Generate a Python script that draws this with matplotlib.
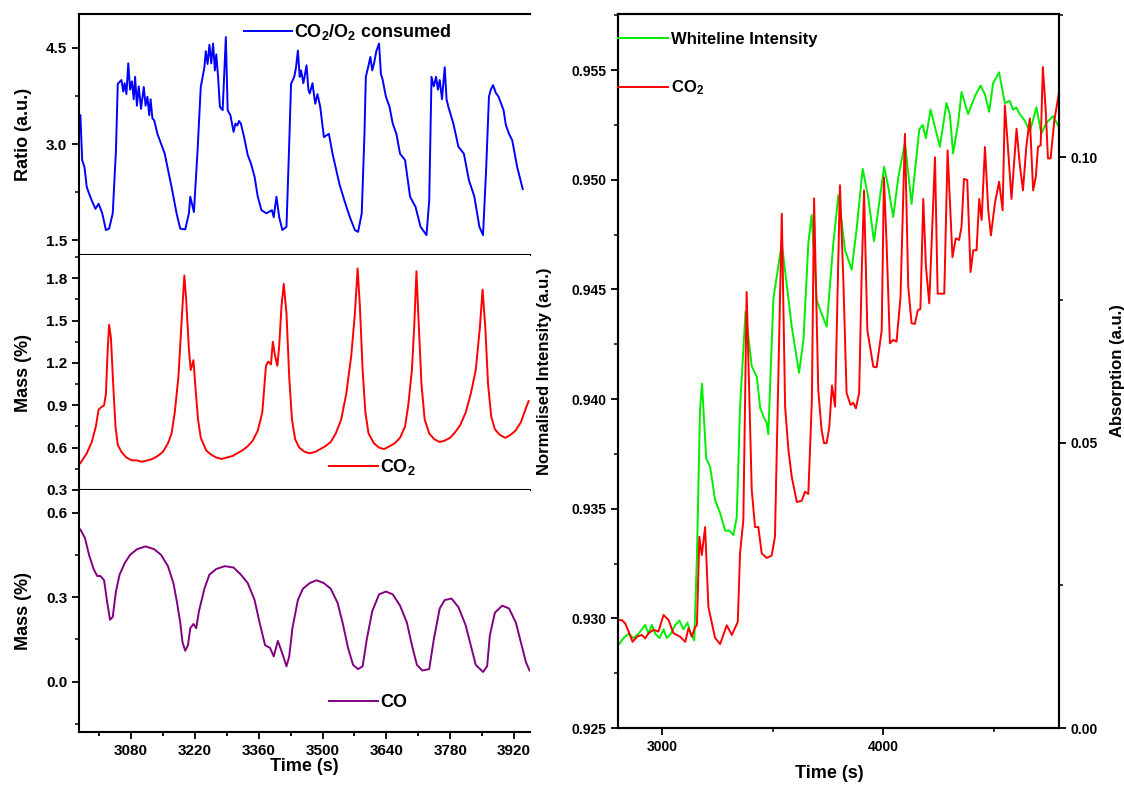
import matplotlib
matplotlib.use("Agg")
import matplotlib.pyplot as plt
from matplotlib.ticker import MultipleLocator, FixedLocator
import numpy as np

plt.rcParams['font.family'] = ['Liberation Sans', 'DejaVu Sans']
plt.rcParams['font.weight'] = 'bold'
plt.rcParams['mathtext.fontset'] = 'custom'
plt.rcParams['mathtext.rm'] = 'Liberation Sans:bold'
plt.rcParams['mathtext.bf'] = 'Liberation Sans:bold'
plt.rcParams['mathtext.default'] = 'rm'

# ---- left column: CO2/O2 ratio, CO2 mass, CO mass vs time (s)
t_ratio = [2969, 2973, 2978, 2983, 2988, 2994, 3002, 3009, 3017, 3025, 3032, 3040, 3047, 3051,
           3059, 3063, 3066, 3070, 3074, 3078, 3082, 3086, 3089, 3093, 3097, 3102, 3108, 3112,
           3116, 3120, 3123, 3127, 3131, 3138, 3154, 3169, 3180,
           3188, 3199, 3207, 3210, 3218, 3226, 3233, 3241, 3244, 3248, 3252, 3256, 3260, 3264,
           3267, 3271, 3275, 3281,
           3288, 3292, 3298, 3305, 3309, 3313, 3317, 3321, 3328, 3336, 3343, 3351, 3358, 3366,
           3377, 3389, 3393, 3399, 3405, 3412, 3421, 3427, 3431, 3438, 3442, 3446, 3450, 3453,
           3458, 3465, 3469, 3472, 3478, 3484, 3489, 3495, 3503, 3514, 3522, 3537, 3548, 3560,
           3571, 3578, 3586, 3592, 3595, 3600, 3605, 3609, 3613, 3618, 3624, 3628, 3632, 3639,
           3647, 3654, 3662, 3670, 3681, 3692, 3704, 3715, 3728, 3734, 3739, 3744, 3749, 3753,
           3757, 3762, 3768, 3772, 3776, 3787, 3798, 3810, 3821, 3833, 3844, 3852, 3859, 3865,
           3869, 3874, 3880, 3886, 3897, 3902, 3909, 3916, 3927, 3939]
ratio = [3.45, 2.75, 2.64, 2.33, 2.23, 2.12, 1.99, 2.07, 1.92, 1.66, 1.68, 1.92, 2.90, 3.94,
         4.00, 3.82, 3.95, 3.78, 4.26, 3.85, 3.98, 3.70, 4.05, 3.60, 3.90, 3.55, 3.89, 3.60,
         3.74, 3.45, 3.70, 3.40, 3.37, 3.16, 2.85, 2.33, 1.92,
         1.68, 1.67, 1.92, 2.18, 1.94, 2.90, 3.89, 4.20, 4.45, 4.25, 4.55, 4.26, 4.57, 4.15,
         4.40, 4.05, 3.58, 3.53,
         4.67, 3.53, 3.45, 3.19, 3.32, 3.29, 3.36, 3.32, 3.11, 2.83, 2.70, 2.49, 2.18, 1.97,
         1.92, 1.97, 1.86, 2.18, 1.86, 1.66, 1.71, 3.01, 3.94, 4.05, 4.20, 4.46, 4.05, 4.15,
         3.95, 4.23, 3.85, 3.79, 3.95, 3.63, 3.78, 3.58, 3.11, 3.16, 2.85, 2.38, 2.12, 1.86,
         1.66, 1.63, 1.92, 3.16, 4.05, 4.20, 4.36, 4.15, 4.26, 4.45, 4.57, 4.10, 4.00, 3.74,
         3.58, 3.32, 3.16, 2.85, 2.75, 2.18, 2.02, 1.71, 1.58, 2.12, 4.05, 3.90, 4.05, 3.85,
         4.00, 3.70, 4.20, 3.70, 3.58, 3.32, 2.96, 2.85, 2.44, 2.18, 1.71, 1.58, 2.64, 3.74,
         3.85, 3.92, 3.80, 3.74, 3.53, 3.30, 3.16, 3.06, 2.64, 2.30]

t_co2 = [2969, 2983, 2994, 3003, 3009, 3016, 3021, 3025, 3029, 3032, 3036, 3041, 3046, 3051,
         3059, 3070, 3082, 3093, 3104, 3116, 3127, 3138, 3150, 3161, 3169, 3176, 3184, 3192,
         3197, 3201, 3207, 3211, 3217, 3222, 3227, 3233, 3245, 3256, 3267, 3279, 3290, 3302,
         3313, 3324, 3336, 3347, 3358, 3368, 3376, 3381, 3387, 3391, 3396, 3401, 3405, 3410,
         3415, 3421, 3427, 3433, 3440, 3449, 3461, 3472, 3484, 3495, 3506, 3518, 3529, 3541,
         3552, 3563, 3571, 3577, 3582, 3588, 3594, 3601, 3613, 3624, 3635, 3647, 3658, 3670,
         3681, 3688, 3696, 3701, 3706, 3710, 3717, 3724, 3734, 3745, 3757, 3768, 3780, 3791,
         3802, 3814, 3825, 3836, 3845, 3851, 3857, 3863, 3870, 3878, 3889, 3901, 3912, 3923,
         3935, 3946, 3952]
co2_mass = [0.49, 0.56, 0.64, 0.75, 0.87, 0.89, 0.90, 0.98, 1.30, 1.47, 1.38, 1.05, 0.75, 0.62,
            0.57, 0.53, 0.51, 0.51, 0.50, 0.51, 0.52, 0.54, 0.57, 0.63, 0.70, 0.85, 1.10, 1.55,
            1.82, 1.65, 1.30, 1.15, 1.22, 1.00, 0.80, 0.67, 0.58, 0.55, 0.53, 0.52, 0.53, 0.54,
            0.56, 0.58, 0.61, 0.65, 0.72, 0.85, 1.18, 1.21, 1.19, 1.35, 1.25, 1.18, 1.32, 1.60,
            1.76, 1.55, 1.10, 0.80, 0.66, 0.60, 0.57, 0.56, 0.57, 0.59, 0.61, 0.64, 0.70, 0.80,
            0.98, 1.25, 1.55, 1.87, 1.60, 1.15, 0.85, 0.70, 0.63, 0.60, 0.59, 0.61, 0.63, 0.67,
            0.75, 0.90, 1.15, 1.45, 1.85, 1.55, 1.05, 0.80, 0.70, 0.66, 0.64, 0.65, 0.67, 0.71,
            0.76, 0.85, 0.98, 1.15, 1.45, 1.72, 1.45, 1.05, 0.82, 0.73, 0.69, 0.67, 0.69, 0.72,
            0.78, 0.88, 0.93]

t_co = [2969, 2979, 2988, 2998, 3006, 3013, 3021, 3028, 3034, 3040, 3047, 3055, 3066, 3078,
        3093, 3112, 3131, 3146, 3161, 3173, 3180, 3188, 3193, 3199, 3205, 3210, 3217, 3223,
        3229, 3241, 3252, 3267, 3286, 3305, 3321, 3336, 3351, 3362, 3374, 3385, 3393, 3402,
        3412, 3421, 3427, 3434, 3446, 3457, 3472, 3487, 3503, 3518, 3533, 3544, 3556, 3567,
        3578, 3588, 3597, 3609, 3624, 3639, 3654, 3670, 3685, 3696, 3707, 3719, 3734, 3744,
        3757, 3768, 3783, 3798, 3814, 3825, 3836, 3852, 3861, 3867, 3878, 3894, 3909, 3924,
        3935, 3946, 3954]
co_mass = [0.54, 0.51, 0.45, 0.40, 0.375, 0.375, 0.36, 0.28, 0.22, 0.23, 0.32, 0.38, 0.42, 0.45,
           0.47, 0.48, 0.47, 0.45, 0.41, 0.35, 0.29, 0.21, 0.14, 0.11, 0.13, 0.19, 0.205, 0.19,
           0.25, 0.33, 0.38, 0.40, 0.41, 0.405, 0.38, 0.35, 0.29, 0.21, 0.13, 0.12, 0.09, 0.145,
           0.10, 0.055, 0.09, 0.19, 0.29, 0.33, 0.35, 0.36, 0.35, 0.33, 0.28, 0.21, 0.12, 0.06,
           0.045, 0.055, 0.15, 0.25, 0.31, 0.32, 0.31, 0.27, 0.21, 0.13, 0.06, 0.04, 0.045, 0.15,
           0.26, 0.29, 0.295, 0.265, 0.20, 0.13, 0.06, 0.035, 0.055, 0.165, 0.245, 0.27, 0.26, 0.21,
           0.14, 0.07, 0.04]

# ---- right panel: whiteline intensity (left axis) and CO2 absorption (right axis)
t_white = [2803, 2825, 2848, 2870, 2893, 2908, 2923, 2938, 2953, 2968, 2988, 3006, 3021, 3039,
           3059, 3078, 3096, 3114, 3130, 3145, 3157, 3171, 3180, 3199, 3217, 3239, 3262, 3285,
           3304, 3322, 3337, 3352, 3377, 3405, 3428, 3443, 3458, 3473, 3480, 3503, 3541, 3586,
           3619, 3639, 3661, 3676, 3699, 3721, 3744, 3774, 3797, 3827, 3857, 3880, 3907, 3932,
           3958, 3985, 4004, 4022, 4045, 4068, 4098, 4128, 4163, 4178, 4193, 4214, 4234, 4256,
           4286, 4301, 4316, 4339, 4354, 4384, 4414, 4440, 4460, 4479, 4497, 4524, 4550, 4572,
           4587, 4602, 4617, 4640, 4663, 4693, 4715, 4738, 4768, 4795]
whiteline = [0.9288, 0.9291, 0.9293, 0.9291, 0.9293, 0.9295, 0.9297, 0.9293, 0.9297, 0.9293,
             0.9291, 0.9295, 0.9291, 0.9293, 0.9297, 0.9299, 0.9295, 0.9298, 0.9293, 0.9290,
             0.9328, 0.9395, 0.9407, 0.9373, 0.9369, 0.9354, 0.9348, 0.9340, 0.9340, 0.9338,
             0.9346, 0.9396, 0.9440, 0.9415, 0.9410, 0.9396, 0.9392, 0.9389, 0.9384, 0.9446,
             0.9471, 0.9433, 0.9412, 0.9427, 0.9471, 0.9484, 0.9445, 0.9439, 0.9433, 0.9471,
             0.9493, 0.9468, 0.9459, 0.9478, 0.9505, 0.9492, 0.9472, 0.9492, 0.9506, 0.9497,
             0.9483, 0.9501, 0.9517, 0.9489, 0.9523, 0.9525, 0.9519, 0.9532, 0.9524, 0.9515,
             0.9535, 0.9530, 0.9512, 0.9526, 0.9540, 0.9530, 0.9538, 0.9543, 0.9539, 0.9531,
             0.9544, 0.9549, 0.9535, 0.9536, 0.9532, 0.9533, 0.9530, 0.9527, 0.9522, 0.9533,
             0.9521, 0.9526, 0.9529, 0.9524]

t_abs = [2803, 2818, 2833, 2848, 2866, 2886, 2908, 2923, 2938, 2961, 2983, 3006, 3029, 3051,
         3081, 3104, 3119, 3134, 3149, 3157, 3168, 3179, 3194, 3209, 3239, 3262, 3292, 3315,
         3342, 3352, 3367, 3382, 3405, 3420, 3435, 3450, 3473, 3495, 3510, 3541, 3556, 3571,
         3586, 3609, 3631, 3646, 3661, 3677, 3687, 3706, 3721, 3732, 3744, 3756, 3768, 3782,
         3804, 3819, 3834, 3852, 3864, 3876, 3891, 3902, 3913, 3928, 3955, 3970, 3993, 4003,
         4015, 4030, 4045, 4060, 4078, 4098, 4113, 4128, 4143, 4156, 4168, 4181, 4193, 4208,
         4234, 4246, 4260, 4276, 4291, 4304, 4313, 4328, 4343, 4354, 4365, 4380, 4395, 4407,
         4422, 4434, 4445, 4460, 4475, 4487, 4505, 4524, 4540, 4550, 4565, 4580, 4603, 4617,
         4632, 4647, 4663, 4678, 4690, 4700, 4712, 4722, 4735, 4745, 4757, 4774, 4794]
absorption = [0.0189, 0.0189, 0.0183, 0.0169, 0.0151, 0.0160, 0.0163, 0.0157, 0.0166, 0.0172,
              0.0169, 0.0198, 0.0189, 0.0166, 0.0160, 0.0151, 0.0175, 0.0160, 0.0177, 0.0180,
              0.0335, 0.0303, 0.0352, 0.0212, 0.0158, 0.0147, 0.0180, 0.0163, 0.0186, 0.0306,
              0.0364, 0.0764, 0.0417, 0.0352, 0.0352, 0.0306, 0.0298, 0.0302, 0.0335, 0.0901,
              0.0563, 0.0487, 0.0440, 0.0396, 0.0398, 0.0414, 0.0410, 0.0574, 0.0928, 0.0592,
              0.0522, 0.0499, 0.0499, 0.0528, 0.0600, 0.0563, 0.0951, 0.0790, 0.0587, 0.0566,
              0.0570, 0.0560, 0.0587, 0.0790, 0.0942, 0.0697, 0.0633, 0.0632, 0.0697, 0.0965,
              0.0849, 0.0674, 0.0680, 0.0677, 0.0755, 0.1041, 0.0773, 0.0709, 0.0708, 0.0732,
              0.0734, 0.0927, 0.0808, 0.0744, 0.1000, 0.0761, 0.0761, 0.0761, 0.1012, 0.0902,
              0.0825, 0.0858, 0.0855, 0.0878, 0.0962, 0.0960, 0.0799, 0.0837, 0.0837, 0.0927,
              0.0890, 0.1018, 0.0907, 0.0863, 0.0919, 0.0957, 0.0907, 0.1091, 0.1012, 0.0927,
              0.1050, 0.0989, 0.0942, 0.1018, 0.1068, 0.0942, 0.0965, 0.1018, 0.1021, 0.1158,
              0.1082, 0.0998, 0.0998, 0.1065, 0.1111]

fig = plt.figure(figsize=(11.24, 7.87), dpi=100)
W, H = 1124, 787


def px_axes(x0, y0, x1, y1):
    return fig.add_axes([x0 / W, 1 - y1 / H, (x1 - x0) / W, (y1 - y0) / H])


ax1 = px_axes(79, 14, 530, 255)
ax2 = px_axes(79, 255, 530, 490)
ax3 = px_axes(79, 490, 530, 732)
axr = px_axes(618, 14, 1059, 728)

spw = 1.5
for ax in (ax1, ax2, ax3):
    ax.set_xlim(2966, 3955)
    ax.spines['right'].set_visible(False)
    for s in ('left', 'bottom', 'top'):
        ax.spines[s].set_linewidth(spw)
    ax.tick_params(axis='y', which='major', direction='out', length=5, width=1.3, labelsize=11)
    ax.tick_params(axis='y', which='minor', direction='out', length=3, width=1.1)
    ax.tick_params(axis='x', which='both', direction='out', width=1.3)
    ax.yaxis.set_label_coords(-0.105, 0.5)
    for lab in ax.get_yticklabels():
        lab.set_fontweight('bold')
ax2.spines['top'].set_visible(False)
ax3.spines['top'].set_visible(False)
for ax in (ax1, ax2):
    ax.tick_params(axis='x', which='both', bottom=False, labelbottom=False)

# top: ratio
ax1.plot(t_ratio, ratio, color='#0000ff', lw=1.4, label='CO$_2$/O$_2$ consumed')
ax1.set_ylim(1.27, 5.03)
ax1.yaxis.set_major_locator(FixedLocator([1.5, 3.0, 4.5]))
ax1.yaxis.set_minor_locator(FixedLocator([2.25, 3.75]))
ax1.set_ylabel('Ratio (a.u.)', fontsize=13, fontweight='bold')
ax1.legend(loc='center left', bbox_to_anchor=(0.365, 0.925), frameon=False, fontsize=13,
           handlelength=2.7, handletextpad=0.1, borderpad=0, borderaxespad=0)

# middle: CO2 mass
ax2.plot(t_co2, co2_mass, color='#ff0000', lw=1.4, label='CO$_2$')
ax2.set_ylim(0.3, 1.965)
ax2.yaxis.set_major_locator(MultipleLocator(0.3))
ax2.yaxis.set_minor_locator(MultipleLocator(0.15))
ax2.set_ylabel('Mass (%)', fontsize=13, fontweight='bold')
ax2.legend(loc='center left', bbox_to_anchor=(0.555, 0.098), frameon=False, fontsize=13,
           handlelength=2.7, handletextpad=0.1, borderpad=0, borderaxespad=0)

# bottom: CO mass
ax3.plot(t_co, co_mass, color='#800080', lw=1.4, label='CO')
ax3.set_ylim(-0.178, 0.68)
ax3.yaxis.set_major_locator(MultipleLocator(0.3))
ax3.yaxis.set_minor_locator(MultipleLocator(0.15))
ax3.set_ylabel('Mass (%)', fontsize=13, fontweight='bold')
ax3.xaxis.set_major_locator(MultipleLocator(140))
ax3.xaxis.set_minor_locator(FixedLocator(np.arange(3010, 3960, 140)))
ax3.tick_params(axis='x', which='major', length=5, labelsize=11)
ax3.tick_params(axis='x', which='minor', length=3)
for lab in ax3.get_xticklabels():
    lab.set_fontweight('bold')
ax3.set_xlabel('Time (s)', fontsize=13, fontweight='bold', labelpad=0)
ax3.legend(loc='center left', bbox_to_anchor=(0.555, 0.12), frameon=False, fontsize=13,
           handlelength=2.7, handletextpad=0.1, borderpad=0, borderaxespad=0)

# right panel
axt = axr.twinx()
for a in (axr, axt):
    for s in a.spines.values():
        s.set_linewidth(spw)
lw_, = axr.plot(t_white, whiteline, color='#00ee00', lw=1.4, label='Whiteline Intensity')
la_, = axt.plot(t_abs, absorption, color='#ff0000', lw=1.4, label='CO$_2$')
axr.set_xlim(2800, 4795)
axr.set_ylim(0.925, 0.95756)
axt.set_ylim(0.0, 0.1251)
axr.xaxis.set_major_locator(MultipleLocator(1000))
axr.xaxis.set_minor_locator(MultipleLocator(500))
axr.yaxis.set_major_locator(MultipleLocator(0.005))
axr.yaxis.set_minor_locator(MultipleLocator(0.0025))
axt.yaxis.set_major_locator(MultipleLocator(0.05))
axt.yaxis.set_minor_locator(MultipleLocator(0.025))
axr.yaxis.set_major_formatter(plt.FormatStrFormatter('%.3f'))
axt.yaxis.set_major_formatter(plt.FormatStrFormatter('%.2f'))
axr.tick_params(which='major', direction='out', length=5, width=1.3, labelsize=10)
axr.tick_params(which='minor', direction='out', length=3, width=1.1)
axt.tick_params(which='major', direction='out', length=5, width=1.3, labelsize=10)
axt.tick_params(which='minor', direction='out', length=3, width=1.1)
for lab in axr.get_xticklabels() + axr.get_yticklabels() + axt.get_yticklabels():
    lab.set_fontweight('bold')
axr.set_xlabel('Time (s)', fontsize=13, fontweight='bold')
axr.xaxis.set_label_coords(0.48, -0.052)
axr.set_ylabel('Normalised Intensity (a.u.)', fontsize=12, fontweight='bold')
axr.yaxis.set_label_coords(-0.15, 0.5)
axt.set_ylabel('Absorption (a.u.)', fontsize=12, fontweight='bold')
axt.yaxis.set_label_coords(1.116, 0.5)
axt.legend(handles=[lw_, la_], loc='upper left', bbox_to_anchor=(0.0, 0.975), frameon=False,
           fontsize=12, handlelength=3.0, handletextpad=0.2, labelspacing=1.9,
           borderpad=0, borderaxespad=0)

fig.savefig('out.png', dpi=100)
